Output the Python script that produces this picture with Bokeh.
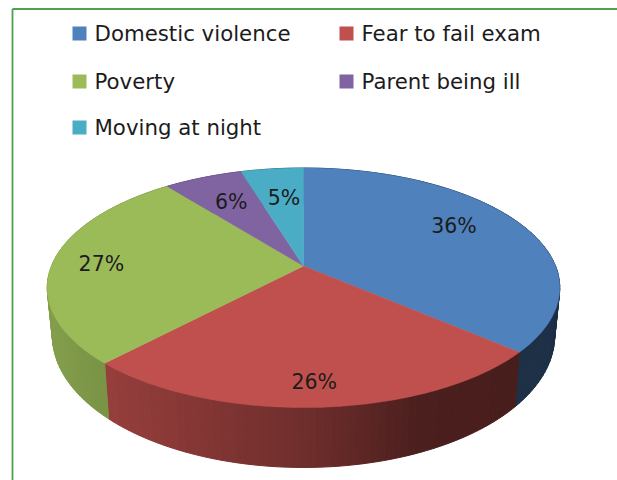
import numpy as np
from bokeh.plotting import figure
from bokeh.embed import file_html
from bokeh.resources import INLINE
from bokeh.core.properties import value

categories = ["Domestic violence", "Fear to fail exam", "Poverty", "Parent being ill", "Moving at night"]
shares = [36.4, 25.6, 27.4, 5.9, 4.7]
labels = ["36%", "26%", "27%", "6%", "5%"]
colors = ["#4F81BD", "#C0504D", "#9BBB59", "#8064A2", "#4BACC6"]

FONT = "DejaVu Sans"
TXT = "#1c1c1c"
W, H = 617, 480
p = figure(width=W, height=H, x_range=(0, W), y_range=(H, 0),
           output_backend="svg", toolbar_location=None, min_border=0,
           outline_line_color=None, background_fill_color="white")
p.axis.visible = False
p.grid.visible = False

CX, CY, A, B, K = 303.0, 265.5, 252.0, 115.8, 0.1816


def project(theta, r=1.0):
    x = r * np.sin(theta)
    y = r * np.cos(theta)
    w = 1 + K * y
    return CX + A * x / w, CY - B * y / w


def lower(X, Y):
    return CX + (X - CX) * 0.98, Y + 60 - 0.1 * (407 - Y)


def shade(hex_color, X):
    f = np.interp(X, [47, 108, 310, 420, 560], [0.85, 0.78, 0.57, 0.39, 0.37])
    rgb = [int(hex_color[i:i + 2], 16) for i in (1, 3, 5)]
    return "#%02x%02x%02x" % tuple(int(c * f) for c in rgb)


edges = np.cumsum([0] + shares) / sum(shares) * 2 * np.pi

# side wall, drawn as narrow strips so that it can be shaded across the front
for i in range(len(shares)):
    n = max(4, int(np.degrees(edges[i + 1] - edges[i]) / 1.5))
    t = np.linspace(edges[i], edges[i + 1], n + 1)
    X, Y = project(t)
    X2, Y2 = lower(X, Y)
    for j in range(n):
        c = shade(colors[i], (X[j] + X[j + 1]) / 2)
        p.patch([X[j], X[j + 1], X2[j + 1], X2[j]], [Y[j], Y[j + 1], Y2[j + 1], Y2[j]],
                fill_color=c, line_color=c, line_width=1.0)

# top face
for i in range(len(shares)):
    t = np.linspace(edges[i], edges[i + 1], 90)
    X, Y = project(t)
    p.patch(np.r_[CX, X], np.r_[CY, Y], fill_color=colors[i], line_color=colors[i], line_width=0.5)

# data labels
radial = [0.7, 0.85, 0.8, 0.7, 0.65]
nudge = [(-2, -8), (-2, 0), (-2, 2), (1, 1), (2, -1)]
for i, s in enumerate(labels):
    X, Y = project((edges[i] + edges[i + 1]) / 2, radial[i])
    p.text([X + nudge[i][0]], [Y + nudge[i][1]], text=[s], text_font=value(FONT), text_font_size="20.5px",
           text_color=TXT, text_align="center", text_baseline="middle")

# legend
leg_x = [72, 339, 72, 339, 72]
leg_y = [33, 33, 81, 81, 127]
for i, name in enumerate(categories):
    p.rect([leg_x[i] + 7], [leg_y[i]], width=14, height=14, fill_color=colors[i], line_color=None)
    p.text([leg_x[i] + 22], [leg_y[i]], text=[name], text_font=value(FONT), text_font_size="21.3px",
           text_color=TXT, text_align="left", text_baseline="middle")

# chart frame
frame = "#4EA24E"
p.line([12, 12], [8.5, H], line_color=frame, line_width=1.8)
p.line([12, W], [8.5, 8.5], line_color=frame, line_width=1.8)

open("out.html", "w").write(file_html(p, INLINE))
